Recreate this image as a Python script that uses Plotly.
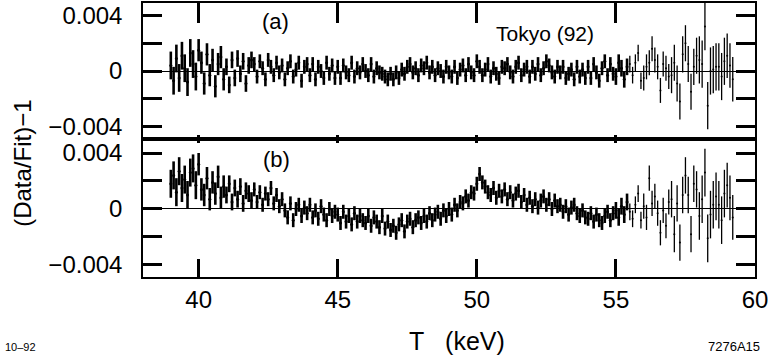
import numpy as np
import plotly.graph_objects as go

# Energy grid of the residual points (keV)
T_START = 39.0
T_STEP = 0.1

# (Data/Fit)-1 residuals, in units of 1e-4, one row per keV (39.0 ... 59.2)
resid_a_e4 = [
    4, -7, 9, -5, 11, 2, -8, 13, 5, -4,         # 39
    15, 6, -9, 12, -3, 8, -11, 5, 10, -6,       # 40
    3, -10, 8, -5, 9, -2, 7, -9, 4, 8,          # 41
    5, -4, 7, 2, -6, 8, 3, -3, 6, -1,           # 42
    4, -6, 2, 7, -4, 1, 6, -7, 3, 5,            # 43
    -3, 5, -6, 3, 0, -5, 6, -2, 4, -5,          # 44
    3, -5, 4, -1, -3, 6, -4, 2, -1, 5,          # 45
    0, -3, 5, -4, 2, -1, -2, -4, -6, -2,        # 46
    -6, -1, -5, 1, -2, 3, 5, -1, 2, -3,         # 47
    4, 2, 6, -1, 3, -3, 2, 0, -4, 3,            # 48
    -1, -4, 3, -5, 1, 4, -3, 5, -1, -3,         # 49
    7, 3, -3, 1, 5, -4, 2, -2, -5, 3,           # 50
    2, 5, -1, -4, 3, 6, -3, 1, 3, -4,           # 51
    3, -2, 5, -3, 2, 7, 4, -1, -4, 3,           # 52
    -1, 3, -5, -2, 1, -6, 3, -4, 1, -5,         # 53
    3, -5, 5, -1, -7, 2, 7, -3, 5, -2,          # 54
    -4, 6, 2, -6, 3, 5, -3, 6, 13, -7,          # 55
    -5, 3, 6, 16, 8, 3, -14, 5, 2, -4,          # 56
    -3, 6, -9, -22, 12, 20, 5, -15, 3, 11,      # 57
    8, 5, 32, -25, 0, 1, 3, 3, -4, 7,           # 58
    11, 4, -6,                                  # 59
]

resid_b_e4 = [
    18, 24, 12, 27, 15, 21, 10, 26, 29, 17,     # 39
    32, 14, 10, 22, 7, 19, 11, 23, 8, 16,       # 40
    10, 18, 5, 15, 7, 16, 4, 13, 11, 6,         # 41
    14, 5, 12, 3, 11, 7, 15, 4, 10, 2,          # 42
    7, -1, -6, 4, -8, 0, 3, -5, 1, -3,          # 43
    3, -6, -1, -7, 2, -4, -8, 0, -5, -2,        # 44
    -4, -10, -2, -9, -5, -11, -3, -9, -5, -8,   # 45
    -10, -5, -12, -6, -9, -13, -5, -14, -9, -15,  # 46
    -12, -17, -11, -8, -16, -9, -7, -13, -8, -6,  # 47
    -10, -5, -9, -3, -8, -4, -2, -7, -1, -5,    # 48
    0, -4, 3, -1, 5, 4, 9, 6, 12, 11,           # 49
    18, 25, 19, 16, 12, 10, 15, 8, 13, 9,       # 50
    14, 7, 12, 6, 11, 13, 5, 10, 3, 8,          # 51
    2, 7, 1, 6, 9, 3, 7, 0, 6, 2,               # 52
    3, -2, 2, -4, 1, 3, -3, -5, -1, -6,         # 53
    -7, -3, -9, -4, -8, -10, -5, -2, -8, -3,    # 54
    -1, -6, 2, -4, 5, -2, -7, 3, 11, -8,        # 55
    2, -6, 22, 4, 9, -3, -17, -1, -12, 5,       # 56
    7, -18, 4, -24, 10, 24, 10, -18, 18, 14,    # 57
    -5, 7, 26, -21, -4, 3, 9, 3, -8, 11,        # 58
    17, 8, -6,                                  # 59
]

# Statistical error (half-length of each bar), 1e-4 units, per keV bin 39..59
err_bin_keV = list(range(39, 60))
err_bin_e4 = [10, 8, 6, 5, 5, 5, 5, 5, 5, 5, 5, 5, 5, 5, 5, 5, 6, 9, 13, 17, 16]

x_ticks = [40, 45, 50, 55, 60]
y_ticks = [-0.004, -0.002, 0.0, 0.002, 0.004]
y_ticktext = ["\u22120.004", "", "0", "", "0.004"]

FONT = "Liberation Sans, Arial, Helvetica, sans-serif"


def series(vals_e4):
    v = np.asarray(vals_e4, dtype=float) * 1e-4
    t = np.round(T_START + T_STEP * np.arange(len(v)), 1)
    lookup = dict(zip(err_bin_keV, err_bin_e4))
    e = np.array([lookup[int(np.floor(tt + 1e-9))] for tt in t]) * 1e-4
    return t, v, e


fig = go.Figure()

for vals, xa, ya in [(resid_a_e4, "x2", "y2"), (resid_b_e4, "x", "y")]:
    t, v, e = series(vals)
    dense = t < 55.5
    for mask, thick, msize in [(dense, 2.6, 3), (~dense, 1.3, 2)]:
        fig.add_trace(go.Scatter(
            x=t[mask], y=v[mask], mode="markers",
            marker=dict(size=msize, color="black"),
            error_y=dict(type="data", array=e[mask], visible=True,
                         color="black", thickness=thick, width=0),
            xaxis=xa, yaxis=ya, showlegend=False, hoverinfo="skip",
        ))

# empty traces carrying the short ticks on the shared border
fig.add_trace(go.Scatter(x=[], y=[], xaxis="x3", yaxis="y2", showlegend=False))
fig.add_trace(go.Scatter(x=[], y=[], xaxis="x4", yaxis="y", showlegend=False))

split = 138 / 274
common_x = dict(range=[38, 60], tickvals=x_ticks, showgrid=False,
                zeroline=False, linecolor="black", linewidth=1.5,
                tickcolor="black", tickwidth=2.5, automargin=False)
common_y = dict(tickvals=y_ticks, ticktext=y_ticktext, showgrid=False,
                ticks="inside", ticklen=19, tickwidth=2.5, tickcolor="black",
                showline=True, linecolor="black", linewidth=1.5,
                mirror="ticks", zeroline=True, zerolinecolor="black",
                zerolinewidth=1, ticklabelstandoff=14, automargin=False,
                tickfont=dict(family=FONT, size=24, color="black"))

fig.update_layout(
    width=768, height=360,
    margin=dict(l=143, r=13, t=3, b=83, autoexpand=False),
    paper_bgcolor="white", plot_bgcolor="white",
    xaxis=dict(**common_x, anchor="y", side="bottom", ticks="inside",
               ticklen=18, showline=True, mirror=True,
               ticklabeloverflow="allow",
               tickfont=dict(family=FONT, size=24, color="black")),
    xaxis2=dict(**common_x, anchor="y2", side="top", ticks="inside",
                ticklen=20, showline=True, mirror=True,
                showticklabels=False, matches="x"),
    xaxis3=dict(**common_x, anchor="y2", side="bottom", ticks="inside",
                ticklen=4, showline=False, showticklabels=False,
                overlaying="x2", matches="x"),
    xaxis4=dict(**common_x, anchor="y", side="top", ticks="inside",
                ticklen=4, showline=False, showticklabels=False,
                overlaying="x", matches="x"),
    yaxis=dict(**common_y, domain=[0, split], anchor="x",
               range=[-0.00486, 0.0050]),
    yaxis2=dict(**common_y, domain=[split, 1], anchor="x2",
                range=[-0.0049, 0.0049]),
    annotations=[
        dict(text="(Data/Fit)\u22121", textangle=-90, xref="paper",
             yref="paper", x=-0.198, y=0.416, xanchor="center",
             yanchor="middle", showarrow=False,
             font=dict(family=FONT, size=24, color="black")),
        dict(text="(a)", xref="x2", yref="y2", x=42.78, y=0.0036,
             showarrow=False, font=dict(family=FONT, size=22, color="black")),
        dict(text="(b)", xref="x", yref="y", x=42.8, y=0.0035,
             showarrow=False, font=dict(family=FONT, size=22, color="black")),
        dict(text="Tokyo (92)", xref="x2", yref="y2", x=52.45, y=0.0027,
             showarrow=False, font=dict(family=FONT, size=21, color="black")),
        dict(text="T\u00a0\u00a0\u00a0(keV)", xref="paper", yref="paper",
             x=0.513, y=-0.234, yanchor="middle", showarrow=False,
             font=dict(family=FONT, size=25, color="black")),
        dict(text="10\u201392", xref="paper", yref="paper", x=-0.229,
             y=-0.255, xanchor="left", yanchor="middle", showarrow=False,
             font=dict(family=FONT, size=11, color="black")),
        dict(text="7276A15", xref="paper", yref="paper", x=1.011,
             y=-0.255, xanchor="right", yanchor="middle", showarrow=False,
             font=dict(family=FONT, size=13, color="black")),
    ],
)

fig.write_html("out.html")
